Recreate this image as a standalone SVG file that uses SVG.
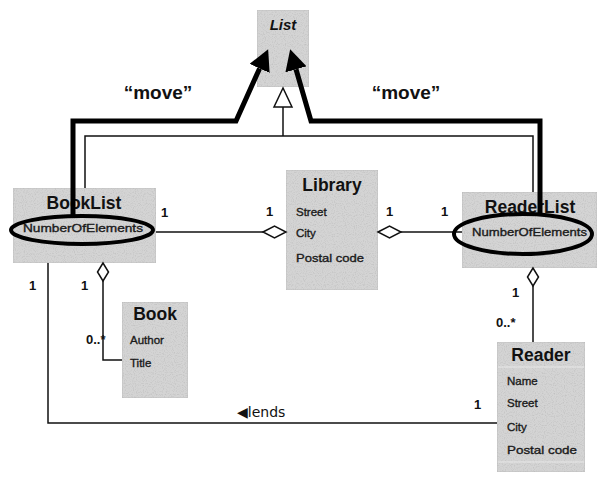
<svg xmlns="http://www.w3.org/2000/svg" width="597" height="483" viewBox="0 0 597 483">
  <style>
    .box { fill: #d4d4d4; stroke: #c0c0c0; stroke-width: 1; filter: url(#grain); }
    .sep { stroke: #e8e8e8; stroke-width: 1; }
    .title { font-family: "Liberation Sans", Arial, sans-serif; font-weight: bold; font-size: 17.5px; fill: #111; text-anchor: middle; }
    .attr { font-family: "Liberation Sans", Arial, sans-serif; font-size: 11.5px; fill: #1a1a1a; stroke: #1a1a1a; stroke-width: 0.35; }
    .mult { font-family: "Liberation Sans", Arial, sans-serif; font-weight: bold; font-size: 13px; fill: #111; }
    .move { font-family: "Liberation Sans", Arial, sans-serif; font-weight: bold; font-size: 19px; fill: #111; text-anchor: middle; }
    .line { fill: none; stroke: #111; stroke-width: 1.5; }
    .thick { fill: none; stroke: #000; stroke-width: 5; stroke-linejoin: miter; }
    .ring { fill: none; stroke: #000; stroke-width: 4; }
    .diamond { fill: #fff; stroke: #111; stroke-width: 1.5; }
  </style>
  <defs>
    <!-- stippled paper texture for class boxes -->
    <filter id="grain" x="0" y="0" width="100%" height="100%">
      <feTurbulence type="fractalNoise" baseFrequency="0.9" numOctaves="1" seed="3" result="noise"/>
      <feColorMatrix in="noise" type="matrix" values="0 0 0 0 0.45  0 0 0 0 0.45  0 0 0 0 0.45  0 0 0 1.6 -0.75" result="dots"/>
      <feComposite in="dots" in2="SourceGraphic" operator="in" result="clipped"/>
      <feMerge>
        <feMergeNode in="SourceGraphic"/>
        <feMergeNode in="clipped"/>
      </feMerge>
    </filter>
    <marker id="bigArrow" markerUnits="userSpaceOnUse" markerWidth="22" markerHeight="22" refX="0" refY="10" orient="auto" viewBox="0 0 20 20">
      <path d="M0,0 L19,10 L0,20 Z" fill="#000"/>
    </marker>
  </defs>
  <rect width="597" height="483" fill="#fff"/>

  <!-- class boxes -->
  <g id="list">
    <rect class="box" x="257" y="10" width="52" height="77"/>
    <text x="283" y="30" class="title" style="font-style:italic;font-size:15px">List</text>
  </g>

  <g id="booklist">
    <rect class="box" x="13" y="188" width="143" height="75"/>
    <text x="84" y="209" class="title">BookList</text>
    <text x="23" y="232" class="attr" font-size="11" textLength="120" lengthAdjust="spacingAndGlyphs">NumberOfElements</text>
  </g>

  <g id="library">
    <rect class="box" x="286" y="170" width="92" height="120"/>
    <text x="332" y="191" class="title">Library</text>
    <text x="296" y="216" class="attr">Street</text>
    <text x="296" y="237" class="attr">City</text>
    <text x="296" y="262" class="attr" textLength="68" lengthAdjust="spacingAndGlyphs">Postal code</text>
  </g>

  <g id="readerlist">
    <rect class="box" x="462" y="192" width="135" height="76"/>
    <text x="530" y="213" class="title">ReaderList</text>
    <text x="472" y="236" class="attr" textLength="115" lengthAdjust="spacingAndGlyphs">NumberOfElements</text>
  </g>

  <g id="book">
    <rect class="box" x="122" y="302" width="66" height="96"/>
    <text x="155" y="320" class="title">Book</text>
    <text x="130" y="344" class="attr">Author</text>
    <text x="130" y="367" class="attr">Title</text>
  </g>

  <g id="reader">
    <rect class="box" x="497" y="342" width="88" height="130"/>
    <line class="sep" x1="498" y1="367" x2="584" y2="367"/>
    <line class="sep" x1="498" y1="462" x2="584" y2="462"/>
    <text x="541" y="361" class="title">Reader</text>
    <text x="507" y="385" class="attr">Name</text>
    <text x="507" y="407" class="attr">Street</text>
    <text x="507" y="431" class="attr">City</text>
    <text x="507" y="454" class="attr" textLength="70" lengthAdjust="spacingAndGlyphs">Postal code</text>
  </g>

  <!-- associations, generalization and highlight marks -->
  <g id="connectors">
    <!-- generalization tree to List -->
    <path class="line" d="M85,188 V136 H533 V192"/>
    <line class="line" x1="283" y1="136" x2="283" y2="107"/>
    <polygon points="283,88 274,107 292,107" fill="#fff" stroke="#111" stroke-width="1.5"/>

    <!-- BookList to Library, aggregation -->
    <line class="line" x1="156" y1="232" x2="263" y2="232"/>
    <polygon class="diamond" points="263,232 274.5,226 286,232 274.5,238"/>
    <!-- ReaderList to Library, aggregation -->
    <line class="line" x1="400" y1="232" x2="462" y2="232"/>
    <polygon class="diamond" points="378,232 389.5,226 401,232 389.5,238"/>

    <!-- ReaderList holds Readers -->
    <line class="line" x1="533" y1="285" x2="533" y2="342"/>
    <polygon class="diamond" points="533,268 527.5,277 533,286 538.5,277"/>

    <!-- BookList holds Books -->
    <path class="line" d="M103,280 V360 H122"/>
    <polygon class="diamond" points="103,263 97.5,272 103,281 108.5,272"/>

    <!-- BookList lends to Reader -->
    <path class="line" d="M48,263 V423 H497"/>

    <!-- highlighted attributes -->
    <ellipse class="ring" cx="82" cy="230" rx="71" ry="14"/>
    <ellipse class="ring" cx="523" cy="234" rx="69" ry="20"/>

    <!-- move arrows -->
    <path class="thick" d="M73,216 V121 H236 L259.6,68.4" marker-end="url(#bigArrow)"/>
    <path class="thick" d="M540,214 V121 H311 L296,69.3" marker-end="url(#bigArrow)"/>
  </g>

  <!-- labels -->
  <g id="labels">
    <text x="158" y="99" class="move">“move”</text>
    <text x="406" y="99" class="move">“move”</text>
    <text x="161" y="217" class="mult">1</text>
    <text x="266" y="216" class="mult">1</text>
    <text x="386" y="216" class="mult">1</text>
    <text x="441" y="216" class="mult">1</text>
    <text x="29" y="290" class="mult">1</text>
    <text x="81" y="290" class="mult">1</text>
    <text x="86" y="344" class="mult">0..*</text>
    <text x="512" y="297" class="mult">1</text>
    <text x="496" y="327" class="mult">0..*</text>
    <text x="474" y="409" class="mult">1</text>
    <text x="237" y="417" class="mult" style="font-weight:normal;font-family:'DejaVu Sans','Liberation Sans',sans-serif;font-size:14px">◀lends</text>
  </g>
</svg>
